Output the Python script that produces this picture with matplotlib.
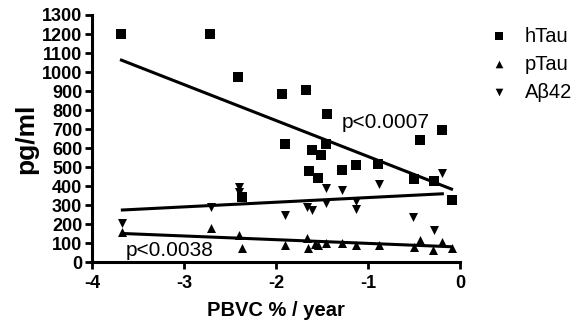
import numpy as np
import matplotlib
matplotlib.use("Agg")
import matplotlib.pyplot as plt

plt.rcParams['font.family'] = ['Liberation Sans', 'DejaVu Sans']

# hTau (squares)
htau_x = [-3.68, -2.72, -2.41, -2.37, -1.93, -1.90, -1.67, -1.64, -1.61, -1.54,
          -1.51, -1.45, -1.44, -1.28, -1.13, -0.89, -0.50, -0.43, -0.28, -0.19, -0.09]
htau_y = [1200, 1200, 975, 344, 884, 619, 905, 481, 589, 440,
          563, 621, 777, 484, 510, 514, 435, 642, 428, 695, 326]

# pTau (up triangles)
ptau_x = [-3.67, -2.71, -2.40, -2.37, -1.90, -1.66, -1.65, -1.58, -1.54, -1.45,
          -1.28, -1.13, -0.88, -0.50, -0.43, -0.29, -0.19, -0.09]
ptau_y = [160, 177, 142, 72, 89, 125, 72, 95, 89, 98,
          98, 89, 89, 81, 116, 63, 107, 72]

# Abeta42 (down triangles)
ab_x = [-3.67, -2.71, -2.40, -2.40, -1.90, -1.66, -1.61, -1.45, -1.45, -1.28,
        -1.13, -1.13, -0.88, -0.51, -0.28, -0.19]
ab_y = [205, 291, 393, 370, 247, 290, 272, 388, 309, 379,
        320, 280, 410, 239, 168, 467]

# regression lines: (slope, intercept)
htau_fit = (-189.0, 367.0)
ptau_fit = (-19.5, 79.0)
ab_fit = (24.5, 364.0)

xticks = [-4, -3, -2, -1, 0]
yticks = list(range(0, 1301, 100))

fig = plt.figure(figsize=(5.88, 3.26), dpi=100)
ax = fig.add_axes([0.1565, 0.196, 0.782 - 0.1565, 0.954 - 0.196])

ms = 42
ax.scatter(htau_x, htau_y, marker='s', s=ms, color='black', linewidths=0, label='hTau', zorder=3)
ax.scatter(ptau_x, ptau_y, marker='^', s=ms, color='black', linewidths=0, label='pTau', zorder=3)
ax.scatter(ab_x, ab_y, marker='v', s=ms, color='black', linewidths=0, label='A\u03b242', zorder=3)

for xs, fit in [(htau_x, htau_fit), (ptau_x, ptau_fit), (ab_x, ab_fit)]:
    xr = np.array([min(xs), max(xs)])
    ax.plot(xr, fit[0] * xr + fit[1], color='black', lw=2.2, zorder=2)

ax.text(-1.29, 737, 'p<0.0007', fontsize=15, va='center', ha='left')
ax.text(-3.63, 62, 'p<0.0038', fontsize=15, va='center', ha='left')

ax.set_xlim(-4, 0)
ax.set_ylim(0, 1300)
ax.set_xticks(xticks)
ax.set_yticks(yticks)
ax.set_xticklabels([str(t) for t in xticks])
ax.set_yticklabels([str(t) for t in yticks])
for lab in ax.get_xticklabels() + ax.get_yticklabels():
    lab.set_fontweight('bold')
    lab.set_fontsize(13)
ax.tick_params(width=2, length=5, pad=2)
ax.tick_params(axis='x', pad=4)

for s in ['top', 'right']:
    ax.spines[s].set_visible(False)
for s in ['left', 'bottom']:
    ax.spines[s].set_linewidth(2.2)

ax.set_ylabel('pg/ml', fontsize=19, fontweight='bold', labelpad=3)
ax.set_xlabel('PBVC % / year', fontsize=14.5, fontweight='bold', labelpad=7)

ax.legend(loc='upper left', bbox_to_anchor=(1.08, 0.953), frameon=False, fontsize=14.5,
          handlelength=1.0, handletextpad=0.75, labelspacing=0.45, borderaxespad=0,
          borderpad=0, markerscale=0.85)

fig.savefig('out.png', dpi=100)
